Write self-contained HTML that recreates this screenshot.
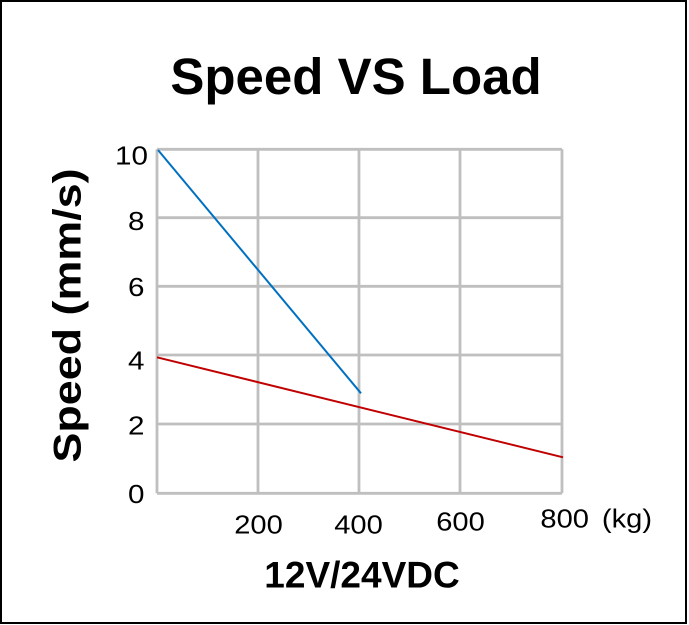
<!DOCTYPE html>
<html>
<head>
<meta charset="utf-8">
<style>
  html,body{margin:0;padding:0;background:#fff;}
  svg{display:block;}
  text{font-family:"Liberation Sans", Arial, sans-serif; fill:#000;}
</style>
</head>
<body>
<svg width="689" height="625" viewBox="0 0 689 625" xmlns="http://www.w3.org/2000/svg">
  <rect x="0" y="0" width="689" height="625" fill="#fff"/>
  <rect x="1" y="1" width="685" height="622" fill="none" stroke="#000" stroke-width="2"/>

  <!-- Title -->
  <text x="356" y="94" font-size="51" font-weight="bold" text-anchor="middle">Speed VS Load</text>

  <!-- Grid -->
  <g stroke="#bfbfbf" stroke-width="2.8" fill="none">
    <line x1="157" y1="149.3" x2="157" y2="493.3"/>
    <line x1="258" y1="149.3" x2="258" y2="493.3"/>
    <line x1="359" y1="149.3" x2="359" y2="493.3"/>
    <line x1="460" y1="149.3" x2="460" y2="493.3"/>
    <line x1="562" y1="149.3" x2="562" y2="493.3"/>
    <line x1="157" y1="149.3" x2="562" y2="149.3"/>
    <line x1="157" y1="217.7" x2="562" y2="217.7"/>
    <line x1="157" y1="286.3" x2="562" y2="286.3"/>
    <line x1="157" y1="355" x2="562" y2="355"/>
    <line x1="157" y1="424" x2="562" y2="424"/>
    <line x1="157" y1="493.3" x2="562" y2="493.3"/>
  </g>

  <!-- Series -->
  <line x1="158" y1="150" x2="361" y2="393.3" stroke="#0070c0" stroke-width="2"/>
  <line x1="157" y1="357.3" x2="563" y2="457.3" stroke="#c00000" stroke-width="2"/>

  <!-- Y tick labels -->
  <g font-size="26" text-anchor="end">
    <text transform="translate(148,164.5) scale(1.14,1)">10</text>
    <text transform="translate(144.5,230) scale(1.14,1)">8</text>
    <text transform="translate(144.5,296) scale(1.14,1)">6</text>
    <text transform="translate(144.5,369.5) scale(1.14,1)">4</text>
    <text transform="translate(144.5,434.5) scale(1.14,1)">2</text>
    <text transform="translate(144.5,503) scale(1.14,1)">0</text>
  </g>

  <!-- X tick labels -->
  <g font-size="26" text-anchor="middle">
    <text transform="translate(258.5,533.3) scale(1.12,1)">200</text>
    <text transform="translate(358.5,533.3) scale(1.12,1)">400</text>
    <text transform="translate(460.5,530.7) scale(1.12,1)">600</text>
    <text transform="translate(564.7,527.3) scale(1.12,1)">800</text>
    <text transform="translate(627,527.3) scale(1.12,1)">(kg)</text>
  </g>

  <!-- Axis titles -->
  <text x="362" y="587.3" font-size="37" font-weight="bold" text-anchor="middle">12V/24VDC</text>
  <text transform="translate(80.5,315.5) rotate(-90) scale(1.15,1)" font-size="39" font-weight="bold" text-anchor="middle">Speed (mm/s)</text>
</svg>
</body>
</html>
